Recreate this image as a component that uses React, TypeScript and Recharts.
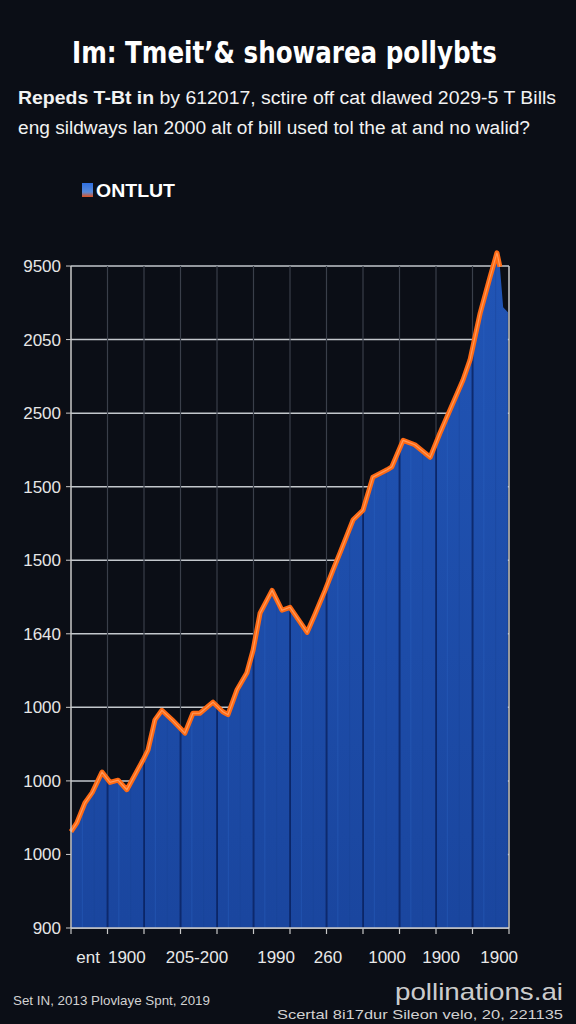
import React from "react";
import { ComposedChart, Area, Line, XAxis, YAxis, ReferenceLine } from "recharts";

// ---- data ----
const periods = [0, 0.16, 0.38, 0.58, 0.85, 1.07, 1.29, 1.53, 1.97, 2.11, 2.3, 2.49, 2.77, 3.12, 3.34, 3.53, 3.89, 4.16, 4.3, 4.55, 4.82, 4.99, 5.18, 5.51, 5.78, 6.0, 6.47, 6.68, 6.96, 7.18, 7.37, 7.73, 8.0, 8.27, 8.66, 8.79, 9.1, 9.42, 9.84, 10.11, 10.38, 10.74, 10.93, 11.21, 11.48, 11.67, 11.75, 11.84, 11.97];
const areaValues = [1.31, 1.43, 1.7, 1.84, 2.12, 1.98, 2.01, 1.88, 2.28, 2.42, 2.83, 2.96, 2.83, 2.65, 2.92, 2.92, 3.07, 2.94, 2.9, 3.24, 3.47, 3.78, 4.28, 4.59, 4.32, 4.36, 4.02, 4.26, 4.59, 4.87, 5.1, 5.55, 5.68, 6.13, 6.23, 6.27, 6.63, 6.57, 6.4, 6.73, 7.04, 7.45, 7.72, 8.36, 8.85, 9.18, 8.99, 8.44, 8.37];
const lineValues: (number | null)[] = [1.31, 1.43, 1.7, 1.84, 2.12, 1.98, 2.01, 1.88, 2.28, 2.42, 2.83, 2.96, 2.83, 2.65, 2.92, 2.92, 3.07, 2.94, 2.9, 3.24, 3.47, 3.78, 4.28, 4.59, 4.32, 4.36, 4.02, 4.26, 4.59, 4.87, 5.1, 5.55, 5.68, 6.13, 6.23, 6.27, 6.63, 6.57, 6.4, 6.73, 7.04, 7.45, 7.72, 8.36, 8.85, 9.18, 8.99, null, null];

const leftTickLabels = ["900", "1000", "1000", "1000", "1640", "1500", "1500", "2500", "2050", "9500"];
const rightTickLabels = ["1000", "1090", "1500", "1500", "1500", "1250", "1500", "1940", "1500", "1500"];
const yTicks = [0, 1, 2, 3, 4, 5, 6, 7, 8, 9];
const xGridTicks = [0, 1, 2, 3, 4, 5, 6, 7, 8, 9, 10, 11, 12];
const xTickLabels = ["ent", "1900", "205-200", "1990", "260", "1000", "1900", "1900"];
const xTickLabelPositions = [0.47, 1.53, 3.45, 5.62, 7.04, 8.66, 10.14, 11.73];

const data = periods.map((t, i) => ({ t, area: areaValues[i], line: lineValues[i] }));

// ---- layout ----
const W = 576;
const H = 1024;
const LEFT_W = 71;
const RIGHT_W = 67;
const X_H = 96;
const TOP = 236.6;
const PLOT_LEFT = LEFT_W;
const UNIT_W = (W - LEFT_W - RIGHT_W) / 12;
const FONT = "'Liberation Sans', Arial, sans-serif";
const BG = "#0b0e16";

const XTick = (props: any) => {
  const { x, y, payload } = props;
  const idx = xTickLabelPositions.indexOf(payload.value);
  if (idx >= 0) {
    return (
      <text x={x} y={y + 35} textAnchor="middle" fill="#e8e8e8" fontSize={17} fontFamily={FONT}>
        {xTickLabels[idx]}
      </text>
    );
  }
  return <line x1={x} x2={x} y1={y} y2={y + 6} stroke="#c8c8c8" strokeWidth={1.2} />;
};

export default function App() {
  return (
    <div style={{ position: "absolute", left: 0, top: 0, width: W, height: H, background: BG, overflow: "hidden" }}>
      <ComposedChart width={W} height={H} data={data} margin={{ top: TOP, right: 0, bottom: 0, left: 0 }}>
        <defs>
          <linearGradient id="areaGrad" x1="0" y1="0" x2="0" y2="1">
            <stop offset="0.23" stopColor="#2155b6" />
            <stop offset="0.9" stopColor="#1a469f" />
          </linearGradient>
          <pattern id="areaPattern" patternUnits="userSpaceOnUse" x={PLOT_LEFT} y={0} width={UNIT_W} height={H}>
            <rect x={0} y={0} width={UNIT_W} height={H} fill="url(#areaGrad)" />
            <rect x={UNIT_W * 0.3} y={0} width={0.8} height={H} fill="#2a62c4" opacity={0.5} />
            <rect x={UNIT_W * 0.62} y={0} width={0.8} height={H} fill="#163f94" opacity={0.6} />
            <rect x={UNIT_W - 0.8} y={0} width={1.8} height={H} fill="#0b2668" />
            <rect x={0} y={0} width={1} height={H} fill="#0b2668" />
          </pattern>
        </defs>
        {yTicks.map((v) => (
          <ReferenceLine key={"h" + v} yAxisId="left" y={v} stroke="#c3c7cc" strokeWidth={1.5} zIndex={-60} />
        ))}
        {xGridTicks.slice(1, -1).map((v) => (
          <ReferenceLine
            key={"g" + v}
            yAxisId="left"
            segment={[{ x: v, y: 0 }, { x: v, y: 9 }]}
            stroke="#3a3f4a"
            strokeWidth={1.2}
            zIndex={-50}
          />
        ))}
        <XAxis
          type="number"
          dataKey="t"
          domain={[0, 12]}
          ticks={[...xGridTicks, ...xTickLabelPositions]}
          interval={0}
          height={X_H}
          tickSize={0}
          tickMargin={0}
          tickLine={false}
          axisLine={{ stroke: "#c8c8c8", strokeWidth: 1.5 }}
          tick={(p: any) => <XTick {...p} />}
        />
        <YAxis
          yAxisId="left"
          orientation="left"
          type="number"
          domain={[0, 9.4]}
          ticks={yTicks}
          interval={0}
          width={LEFT_W}
          axisLine={false}
          tickSize={5}
          tickMargin={5}
          tickLine={{ stroke: "#c8c8c8" }}
          tick={{ fill: "#e6e6e6", fontSize: 17, fontFamily: FONT }}
          tickFormatter={(v: number) => leftTickLabels[v]}
        />
        <YAxis
          yAxisId="right"
          orientation="right"
          type="number"
          domain={[0, 9.4]}
          ticks={yTicks}
          interval={0}
          width={RIGHT_W}
          axisLine={false}
          tickSize={5}
          tickMargin={2}
          tickLine={{ stroke: "#c8c8c8" }}
          tick={{ fill: "#e6e6e6", fontSize: 17, fontFamily: FONT }}
          tickFormatter={(v: number) => rightTickLabels[v]}
        />
        <Area
          yAxisId="left"
          type="linear"
          dataKey="area"
          stroke="none"
          fill="url(#areaPattern)"
          fillOpacity={1}
          isAnimationActive={false}
          dot={false}
          activeDot={false}
        />
        <Line
          yAxisId="left"
          type="linear"
          dataKey="line"
          stroke="#ff6a14"
          strokeWidth={5}
          strokeLinejoin="round"
          dot={false}
          activeDot={false}
          isAnimationActive={false}
        />
        <Line
          yAxisId="left"
          type="linear"
          dataKey="line"
          stroke="#ffa56a"
          strokeWidth={1.2}
          strokeOpacity={0.8}
          dot={false}
          activeDot={false}
          isAnimationActive={false}
        />
        <ReferenceLine yAxisId="left" segment={[{ x: 0, y: 0 }, { x: 0, y: 9 }]} stroke="#c8c8c8" strokeWidth={1.5} zIndex={600} />
        <ReferenceLine yAxisId="left" segment={[{ x: 12, y: 0 }, { x: 12, y: 9 }]} stroke="#c8c8c8" strokeWidth={1.5} zIndex={600} />
      </ComposedChart>

      <svg width={W} height={H} style={{ position: "absolute", left: 0, top: 0, pointerEvents: "none" }}>
        <text
          x={72}
          y={63}
          fill="#ffffff"
          fontSize={30}
          fontWeight="bold"
          fontFamily="'Liberation Sans Narrow', 'DejaVu Sans Condensed', 'Liberation Sans', sans-serif"
          textLength={425}
          lengthAdjust="spacingAndGlyphs"
        >
          Im: Tmeit’& showarea pollybts
        </text>
        <text x={18} y={104} fill="#f2f2f2" fontSize={18} fontFamily={FONT} textLength={538} lengthAdjust="spacingAndGlyphs">
          <tspan fontWeight="bold">Repeds T-Bt in</tspan>
          <tspan> by 612017, sctire off cat dlawed 2029-5 T Bills</tspan>
        </text>
        <text x={18} y={134} fill="#f2f2f2" fontSize={18} fontFamily={FONT} textLength={512} lengthAdjust="spacingAndGlyphs">
          eng sildways lan 2000 alt of bill used tol the at and no walid?
        </text>

        <defs>
          <linearGradient id="legendSwatch" x1="0" y1="0" x2="0" y2="1">
            <stop offset="0" stopColor="#2f6fe0" />
            <stop offset="0.65" stopColor="#5a8ad8" />
            <stop offset="1" stopColor="#e0501c" />
          </linearGradient>
        </defs>
        <rect x={82} y={183} width={11} height={14} fill="url(#legendSwatch)" />
        <text x={96} y={197} fill="#ffffff" fontSize={18} fontWeight="bold" fontFamily={FONT} textLength={79} lengthAdjust="spacingAndGlyphs">
          ONTLUT
        </text>

        <text x={13} y={1005} fill="#d2d2d2" fontSize={13.5} fontFamily={FONT} textLength={197} lengthAdjust="spacingAndGlyphs">
          Set IN, 2013 Plovlaye Spnt, 2019
        </text>
        <text x={277} y={1019} fill="#d2d2d2" fontSize={13.5} fontFamily={FONT} textLength={286} lengthAdjust="spacingAndGlyphs">
          Scertal 8i17dur Sileon velo, 20, 221135
        </text>
        <text x={395} y={1000} fill="#e6e6e6" fillOpacity={0.9} fontSize={24} fontFamily={FONT} textLength={168} lengthAdjust="spacingAndGlyphs">
          pollinations.ai
        </text>
      </svg>
    </div>
  );
}
